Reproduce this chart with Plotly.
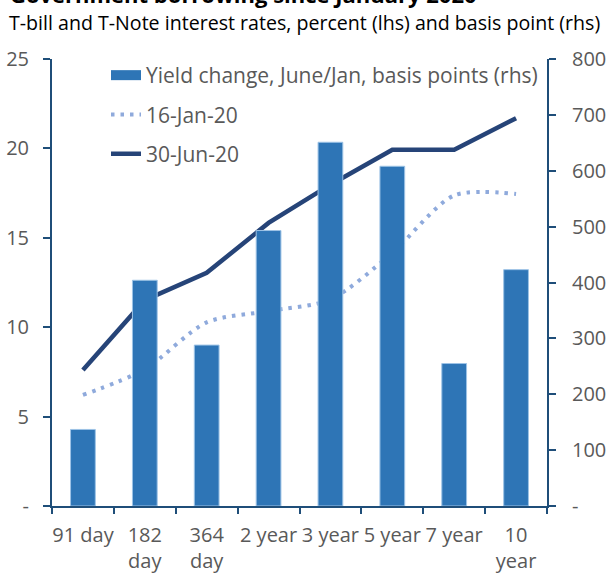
import plotly.graph_objects as go

categories = ["91 day", "182<br>day", "364<br>day", "2 year", "3 year", "5 year", "7 year", "10<br>year"]
yield_change_bp = [137, 404, 288, 493, 651, 608, 255, 423]
jan_16 = [6.21, 7.65, 10.27, 10.9, 11.55, 14.16, 17.37, 17.45]
jun_30 = [7.61, 11.51, 13.04, 15.83, 17.97, 19.92, 19.92, 21.69]

left_ticks = [0, 5, 10, 15, 20, 25]
left_labels = ["-", "5", "10", "15", "20", "25"]
right_ticks = [0, 100, 200, 300, 400, 500, 600, 700, 800]
right_labels = ["-", "100", "200", "300", "400", "500", "600", "700", "800"]

W, H = 614, 574
ml, mt = 52, 59
mr = W - 547
mb = H - 506
pw, ph = W - ml - mr, H - mt - mb

def sx(px):
    return (px - ml) / pw

def sy(py):
    return (H - mb - py) / ph

AXIS = "#1F4E79"
TXT = "#595959"
FONT = "Open Sans"
BAR = "#2E75B6"

fig = go.Figure()
fig.add_trace(go.Bar(
    x=categories, y=yield_change_bp, yaxis="y2",
    name="Yield change, June/Jan, basis points (rhs)",
    marker=dict(color=BAR, line=dict(color="#9DC3E6", width=1)),
    showlegend=False,
))
# legend entry for the bars (wide rectangle key)
fig.add_trace(go.Scatter(
    x=[None], y=[None], mode="lines", yaxis="y2",
    name="Yield change, June/Jan, basis points (rhs)",
    line=dict(color=BAR, width=12),
    legendgroup="a",
))
fig.add_trace(go.Scatter(
    x=categories, y=jan_16, mode="lines", name="16-Jan-20",
    line=dict(color="#8FAADC", width=4, dash="3.5px,6px", shape="spline", smoothing=0.8),
    legendgroup="b",
))
fig.add_trace(go.Scatter(
    x=categories, y=jun_30, mode="lines", name="30-Jun-20",
    line=dict(color="#264478", width=4.5),
    legendgroup="c",
))

fig.update_layout(
    width=W, height=H,
    margin=dict(l=ml, r=mr, t=mt, b=mb, autoexpand=False),
    paper_bgcolor="white", plot_bgcolor="white",
    font=dict(family=FONT, size=20, color=TXT),
    bargap=0.6,
    showlegend=True,
    legend=dict(
        x=sx(106), y=sy(55), xanchor="left", yanchor="top",
        bgcolor="rgba(0,0,0,0)", font=dict(size=21, color=TXT),
        tracegroupgap=9, traceorder="grouped",
    ),
    xaxis=dict(
        showline=True, linecolor=AXIS, linewidth=2,
        ticks="outside", tickson="boundaries", ticklen=6, tickcolor=AXIS, tickwidth=2,
        ticklabelstandoff=10,
        showgrid=False, tickangle=0, tickfont=dict(size=20, color=TXT),
        range=[-0.5, 7.5], automargin=False,
    ),
    yaxis=dict(
        range=[0, 25], tickvals=left_ticks, ticktext=left_labels,
        showline=True, linecolor=AXIS, linewidth=2,
        ticks="outside", ticklen=7, tickcolor=AXIS, tickwidth=2,
        ticklabelstandoff=10,
        showgrid=False, zeroline=False, tickfont=dict(size=20, color=TXT),
        automargin=False,
    ),
    yaxis2=dict(
        range=[0, 800], tickvals=right_ticks, ticktext=right_labels,
        overlaying="y", side="right",
        showline=True, linecolor=AXIS, linewidth=2,
        ticks="outside", ticklen=7, tickcolor=AXIS, tickwidth=2,
        ticklabelstandoff=12,
        showgrid=False, zeroline=False, tickfont=dict(size=20, color=TXT),
        automargin=False,
    ),
    annotations=[
        dict(text="<b>Government borrowing since January 2020</b>",
             xref="paper", yref="paper", x=sx(8), y=sy(11),
             xanchor="left", yanchor="bottom", showarrow=False,
             font=dict(family=FONT, size=22, color="#000000")),
        dict(text="T-bill and T-Note interest rates, percent (lhs) and basis point (rhs)",
             xref="paper", yref="paper", x=sx(7), y=sy(23),
             xanchor="left", yanchor="middle", showarrow=False,
             font=dict(family=FONT, size=19.6, color="#000000")),
    ],
)

fig.write_html("out.html", config={"displayModeBar": False},
               post_script="document.body.style.margin='0';")
